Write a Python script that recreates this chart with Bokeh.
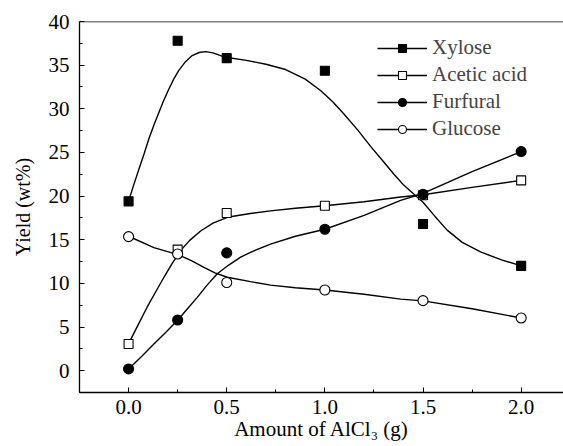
from bokeh.plotting import figure
from bokeh.models import Range1d, Span, Legend, LegendItem, FixedTicker, NumeralTickFormatter
from bokeh.embed import file_html
from bokeh.resources import INLINE

# measured points
x_pts = [0.0, 0.25, 0.5, 1.0, 1.5, 2.0]
xylose = [19.4, 37.8, 35.8, 34.35, 16.8, 12.0]
acetic = [3.06, 13.87, 18.07, 18.9, 20.1, 21.8]
furfural = [0.2, 5.8, 13.5, 16.2, 20.2, 25.1]
glucose = [15.36, 13.37, 10.1, 9.24, 8.02, 6.04]

# fitted curves
xyl_fx = [0.0, 0.025, 0.053, 0.08, 0.104, 0.13, 0.155, 0.18, 0.206, 0.23, 0.256, 0.29, 0.324, 0.36, 0.392, 0.43, 0.494,
          0.6, 0.7, 0.8, 0.9, 0.978, 1.04, 1.097, 1.17, 1.233, 1.3, 1.352, 1.4, 1.45, 1.5, 1.56, 1.623, 1.7, 1.793, 1.9, 2.0]
xyl_fy = [19.4, 21.2, 23.1, 24.9, 26.6, 28.2, 29.6, 31.0, 32.3, 33.4, 34.4, 35.4, 36.1, 36.45, 36.55, 36.4, 35.9,
          35.55, 35.1, 34.5, 33.4, 32.1, 30.8, 29.4, 27.5, 25.7, 23.9, 22.5, 21.3, 20.3, 19.3, 17.7, 16.1, 14.7, 13.6, 12.7, 12.0]
ace_fx = [0.0, 0.05, 0.095, 0.14, 0.18, 0.22, 0.265, 0.31, 0.367, 0.43, 0.503, 0.62, 0.723, 0.85, 1.0, 1.2, 1.386, 1.5, 1.75, 2.0]
ace_fy = [3.1, 5.3, 7.3, 9.1, 10.7, 12.2, 13.75, 14.9, 16.0, 16.9, 17.57, 18.0, 18.3, 18.6, 18.9, 19.35, 19.9, 20.15, 21.0, 21.8]
fur_fx = [0.0, 0.065, 0.129, 0.19, 0.251, 0.3, 0.35, 0.4, 0.452, 0.51, 0.571, 0.621, 0.723, 0.85, 1.0, 1.2, 1.386, 1.5, 1.75, 2.0]
fur_fy = [0.2, 1.6, 3.06, 4.4, 5.8, 7.1, 8.4, 9.8, 11.1, 12.1, 13.0, 13.56, 14.5, 15.4, 16.2, 17.8, 19.5, 20.3, 22.8, 25.1]
glu_fx = [0.0, 0.129, 0.251, 0.32, 0.384, 0.44, 0.503, 0.621, 0.723, 0.85, 1.0, 1.2, 1.386, 1.5, 1.75, 2.0]
glu_fy = [15.4, 14.1, 13.3, 12.6, 11.84, 11.2, 10.7, 10.2, 9.8, 9.5, 9.24, 8.75, 8.2, 8.0, 7.1, 6.04]

labels = ["Xylose", "Acetic acid", "Furfural", "Glucose"]
x_ticks = [0.0, 0.5, 1.0, 1.5, 2.0]
y_ticks = [0, 5, 10, 15, 20, 25, 30, 35, 40]

FONT = "Liberation Serif"

p = figure(width=563, height=446, output_backend="svg", toolbar_location=None,
           x_range=Range1d(-0.25, 2.2157), y_range=Range1d(-2.5, 40),
           min_border_left=79, min_border_right=0, min_border_top=21, min_border_bottom=54)
p.outline_line_color = None
p.xgrid.visible = False
p.ygrid.visible = False
p.background_fill_color = "white"
p.border_fill_color = "white"

for ax in (p.xaxis[0], p.yaxis[0]):
    ax.axis_line_color = "black"
    ax.axis_line_width = 1.3
    ax.major_tick_in = 5
    ax.major_tick_out = 0
    ax.minor_tick_in = 3
    ax.minor_tick_out = 0
    ax.major_tick_line_color = "black"
    ax.minor_tick_line_color = "black"
    ax.major_label_text_font = FONT
    ax.major_label_text_font_size = "21px"
    ax.major_label_text_color = "black"
    ax.axis_label_text_font = FONT
    ax.axis_label_text_font_size = "21px"
    ax.axis_label_text_font_style = "normal"
    ax.axis_label_text_color = "black"

p.yaxis.axis_label_text_font_size = "20px"
p.xaxis.ticker = FixedTicker(ticks=x_ticks, minor_ticks=[-0.25, 0.25, 0.75, 1.25, 1.75])
p.xaxis.formatter = NumeralTickFormatter(format="0.0")
p.yaxis.ticker = FixedTicker(ticks=y_ticks, minor_ticks=[-2.5, 2.5, 7.5, 12.5, 17.5, 22.5, 27.5, 32.5, 37.5])
p.xaxis.major_label_standoff = 7
p.yaxis.major_label_standoff = 10
p.xaxis.axis_label = "Amount of AlCl\u2083 (g)"
p.yaxis.axis_label = "Yield (wt%)"
p.xaxis.axis_label_standoff = 0
p.yaxis.axis_label_standoff = 12

p.add_layout(Span(location=40, dimension="width", line_color="black", line_width=1.3))

LW = 1.4
items = []
specs = [
    (xyl_fx, xyl_fy, xylose, "square", "black", 9),
    (ace_fx, ace_fy, acetic, "square", "white", 9),
    (fur_fx, fur_fy, furfural, "circle", "black", 10),
    (glu_fx, glu_fy, glucose, "circle", "white", 10),
]
for (fx, fy, ys, mk, fill, sz), lab in zip(specs, labels):
    r1 = p.line(fx, fy, line_color="black", line_width=LW)
    r2 = p.scatter(x_pts, ys, marker=mk, size=sz, fill_color=fill, line_color="black", line_width=1.1)
    items.append(LegendItem(label=lab, renderers=[r1, r2]))

leg = Legend(items=items, location=(298, 251), padding=0, margin=0, spacing=2,
             glyph_width=50, glyph_height=20, label_height=20, label_standoff=5,
             label_text_font=FONT, label_text_font_size="21px",
             border_line_color=None, background_fill_alpha=0)
p.add_layout(leg)

open("out.html", "w").write(file_html(p, INLINE))
